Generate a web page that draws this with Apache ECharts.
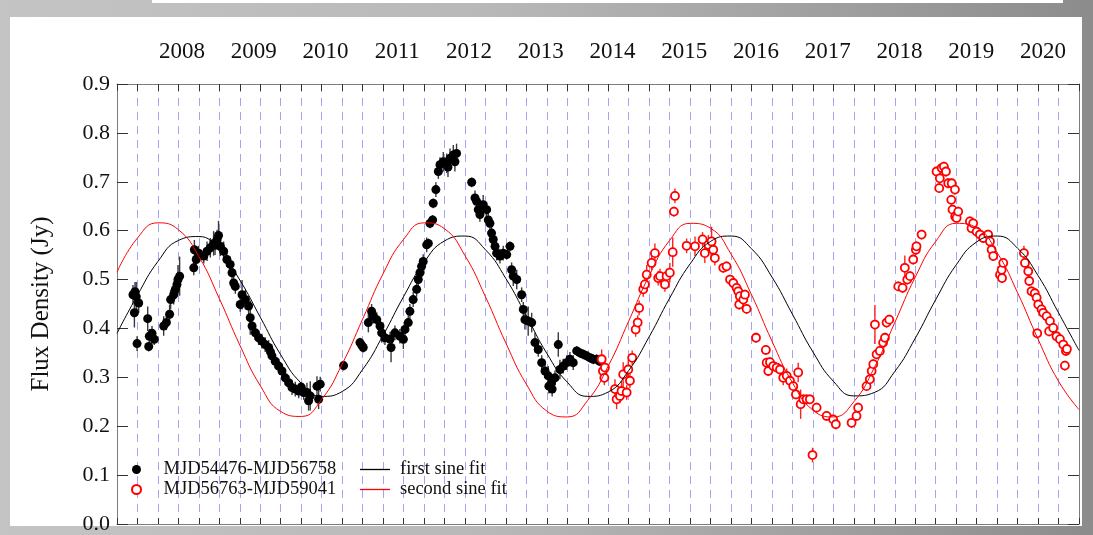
<!DOCTYPE html>
<html>
<head>
<meta charset="utf-8">
<script src="https://cdn.jsdelivr.net/npm/echarts@6/dist/echarts.min.js"></script>
<style>
html,body{margin:0;padding:0;width:1093px;height:535px;overflow:hidden;background:#fff;}
#frame{position:absolute;left:0;top:0;width:1093px;height:535px;background:linear-gradient(90deg,#c4c4c4 0%,#b8b8b8 45%,#8c8c8c 100%);}
#topbar{position:absolute;left:152px;top:0;width:911px;height:3px;background:#fff;}
#panel{position:absolute;left:10px;top:17px;width:1072px;height:509px;background:#fff;}
#chart{position:absolute;left:0;top:0;width:1093px;height:535px;}
</style>
</head>
<body>
<div id="frame"></div><div id="topbar"></div><div id="panel"></div>
<div id="chart"></div>
<script>
// Radio light curve: flux density vs. MJD, two observing epochs with sine fits.

// First epoch (filled black points)
const firstMjd = [54478,54485,54488,54494,54498,54506,54550,54555,54558,54571,54582,54628,54641,54657,54662,54677,54685,54693,54698,54706,
  54775,54778,54787,54799,54824,54840,54856,54872,54879,54889,54896,54905,54921,54937,54953,54962,54970,54978,55002,55011,
  55027,55043,55051,55060,55076,55092,55108,55124,55141,55150,55157,55173,55190,55206,55222,55239,55255,55271,55288,55300,
  55312,55328,55336,55344,55377,55385,55393,55507,55587,55595,55603,55628,55644,55652,55669,55685,55693,55709,55734,55739,
  55758,55782,55799,55807,55823,55831,55847,55864,55872,55880,55888,55896,55913,55921,55929,55942,55945,55958,55970,55978,
  55994,56011,56017,56027,56043,56051,56059,56133,56149,56157,56165,56173,56189,56206,56214,56222,56230,56238,56247,56255,
  56271,56287,56304,56320,56328,56336,56353,56377,56385,56393,56409,56426,56442,56458,56475,56491,56507,56510,56523,56526,
  56540,56556,56564,56580,56597,56613,56629,56646,56662,56678,56694,56711,56727,56743,56758];
const firstFlux = [0.469,0.432,0.475,0.465,0.369,0.452,0.420,0.363,0.384,0.390,0.378,0.405,0.412,0.429,0.459,0.469,0.480,0.490,0.500,0.507,
  0.524,0.561,0.541,0.554,0.548,0.558,0.565,0.574,0.570,0.582,0.590,0.568,0.558,0.541,0.531,0.514,0.493,0.486,0.449,0.469,
  0.459,0.446,0.422,0.405,0.391,0.381,0.374,0.367,0.361,0.352,0.344,0.333,0.323,0.313,0.299,0.289,0.279,0.276,0.272,0.280,
  0.269,0.269,0.252,0.262,0.282,0.255,0.286,0.324,0.371,0.366,0.361,0.412,0.435,0.425,0.418,0.405,0.391,0.381,0.378,0.361,
  0.391,0.384,0.378,0.398,0.412,0.435,0.459,0.480,0.500,0.514,0.527,0.537,0.571,0.574,0.615,0.622,0.656,0.684,0.721,0.735,
  0.741,0.738,0.730,0.748,0.755,0.741,0.758,0.699,0.667,0.660,0.643,0.633,0.653,0.643,0.622,0.615,0.595,0.582,0.568,0.554,
  0.548,0.554,0.551,0.568,0.520,0.507,0.500,0.469,0.439,0.418,0.415,0.412,0.371,0.357,0.330,0.313,0.303,0.282,0.289,0.276,
  0.299,0.367,0.316,0.323,0.330,0.337,0.330,0.354,0.350,0.347,0.344,0.340,0.337,0.337,0.333];
const firstErr = [0.02,0.03,0.02,0.03,0.015,0.02,0.025,0.01,0.015,0.015,0.012,0.02,0.015,0.02,0.02,0.02,0.02,0.02,0.03,0.04,
  0.015,0.02,0.02,0.015,0.015,0.02,0.02,0.025,0.02,0.02,0.03,0.02,0.02,0.015,0.015,0.015,0.015,0.015,0.015,0.03,
  0.02,0.02,0.035,0.01,0.015,0.015,0.015,0.015,0.015,0.01,0.015,0.015,0.015,0.015,0.015,0.015,0.015,0.015,0.015,0.01,
  0.015,0.02,0.02,0.03,0.02,0.02,0.015,0.01,0.01,0.01,0.01,0.02,0.015,0.015,0.015,0.015,0.02,0.015,0.015,0.03,
  0.015,0.015,0.02,0.015,0.015,0.015,0.015,0.015,0.015,0.015,0.015,0.015,0.015,0.01,0.01,0.01,0.01,0.015,0.015,0.015,
  0.02,0.02,0.02,0.02,0.02,0.02,0.02,0.01,0.015,0.015,0.015,0.015,0.02,0.015,0.015,0.015,0.015,0.015,0.015,0.015,
  0.015,0.015,0.01,0.01,0.015,0.02,0.02,0.015,0.015,0.02,0.03,0.02,0.02,0.015,0.015,0.015,0.02,0.015,0.015,0.015,
  0.015,0.025,0.02,0.015,0.015,0.015,0.015,0.01,0.01,0.01,0.01,0.01,0.01,0.01,0.01];

// Second epoch (open red circles)
const secondMjd = [56768,56774,56781,56784,56833,56841,56857,56865,56873,56890,56898,56906,56917,56934,56944,56951,56971,56979,56988,57012,
  57028,57044,57053,57077,57085,57101,57115,57121,57126,57183,57224,57261,57272,57289,57305,57313,57321,57362,57378,57395,
  57411,57427,57435,57440,57443,57460,57468,57476,57522,57570,57574,57582,57590,57606,57623,57639,57655,57672,57688,57704,
  57717,57728,57740,57753,57769,57785,57798,57818,57867,57899,57912,57989,58013,58021,58062,58078,58087,58095,58103,58111,
  58127,58143,58152,58160,58173,58217,58238,58249,58261,58274,58290,58303,58306,58331,58404,58417,58420,58429,58440,58450,
  58461,58476,58478,58482,58494,58495,58502,58510,58567,58575,58583,58600,58616,58632,58656,58665,58673,58681,58714,58722,
  58724,58730,58831,58836,58852,58857,58868,58884,58893,58896,58901,58917,58925,58942,58954,58958,58974,58990,59007,59023,
  59031,59036,59041];
const secondFlux = [0.337,0.313,0.299,0.320,0.276,0.255,0.262,0.272,0.306,0.269,0.316,0.293,0.340,0.398,0.412,0.442,0.480,0.490,0.510,0.534,
  0.554,0.503,0.507,0.490,0.507,0.514,0.556,0.639,0.671,0.569,0.568,0.582,0.554,0.571,0.578,0.561,0.544,0.524,0.527,0.500,
  0.493,0.483,0.476,0.449,0.466,0.459,0.469,0.440,0.381,0.356,0.330,0.313,0.331,0.323,0.320,0.316,0.299,0.303,0.293,0.282,
  0.265,0.310,0.245,0.255,0.255,0.255,0.141,0.238,0.221,0.214,0.204,0.207,0.221,0.238,0.282,0.296,0.313,0.327,0.408,0.347,
  0.354,0.371,0.381,0.412,0.418,0.486,0.483,0.524,0.500,0.507,0.541,0.561,0.568,0.592,0.721,0.687,0.707,0.728,0.731,0.721,
  0.697,0.663,0.697,0.643,0.684,0.629,0.626,0.639,0.619,0.605,0.615,0.598,0.592,0.585,0.592,0.578,0.561,0.548,0.510,0.520,
  0.503,0.534,0.554,0.534,0.517,0.497,0.476,0.472,0.463,0.390,0.449,0.439,0.432,0.425,0.394,0.415,0.401,0.384,0.378,0.367,
  0.324,0.354,0.358];
const secondErr = [0.02,0.015,0.015,0.02,0.02,0.02,0.015,0.02,0.025,0.015,0.02,0.015,0.015,0.015,0.015,0.015,0.015,0.015,0.02,0.015,
  0.02,0.015,0.015,0.015,0.015,0.02,0.03,0.01,0.015,0.015,0.02,0.015,0.02,0.02,0.03,0.02,0.015,0.01,0.01,0.01,
  0.01,0.01,0.01,0.01,0.01,0.01,0.01,0.01,0.01,0.01,0.01,0.01,0.01,0.01,0.01,0.01,0.015,0.015,0.01,0.015,
  0.01,0.02,0.03,0.01,0.01,0.01,0.015,0.01,0.01,0.01,0.01,0.01,0.01,0.01,0.01,0.01,0.01,0.01,0.04,0.01,
  0.01,0.01,0.01,0.01,0.01,0.01,0.01,0.025,0.01,0.01,0.01,0.01,0.01,0.01,0.01,0.01,0.01,0.01,0.01,0.01,
  0.01,0.01,0.01,0.01,0.01,0.01,0.01,0.01,0.01,0.01,0.01,0.01,0.01,0.01,0.01,0.01,0.01,0.01,0.01,0.01,
  0.01,0.01,0.015,0.01,0.01,0.01,0.01,0.01,0.01,0.01,0.01,0.01,0.01,0.01,0.01,0.01,0.01,0.01,0.01,0.01,
  0.01,0.01,0.01];

// Sine-fit curves sampled every 100 days
const fitMjd = [54400,54500,54600,54700,54800,54900,55000,55100,55200,55300,55400,55500,55600,55700,55800,55900,
  56000,56100,56200,56300,56400,56500,56600,56700,56800,56900,57000,57100,57200,57300,57400,57500,
  57600,57700,57800,57900,58000,58100,58200,58300,58400,58500,58600,58700,58800,58900,59000,59100];
const firstFit = [0.390,0.468,0.537,0.580,0.588,0.559,0.499,0.423,0.346,0.288,0.261,0.271,0.316,0.386,0.465,0.535,
  0.579,0.589,0.561,0.502,0.426,0.349,0.290,0.261,0.270,0.314,0.383,0.462,0.532,0.578,0.589,0.563,
  0.505,0.429,0.352,0.292,0.262,0.269,0.312,0.380,0.459,0.530,0.577,0.589,0.564,0.508,0.432,0.355];
const secondFit = [0.515,0.585,0.616,0.602,0.547,0.461,0.366,0.283,0.230,0.220,0.255,0.327,0.419,0.512,0.582,0.616,
  0.604,0.549,0.465,0.370,0.286,0.231,0.219,0.253,0.323,0.415,0.508,0.580,0.615,0.605,0.552,0.469,
  0.374,0.289,0.233,0.219,0.250,0.320,0.412,0.505,0.578,0.615,0.606,0.555,0.473,0.378,0.292,0.234];

// Calendar-year labels along the top
const yearTicks = [2008,2009,2010,2011,2012,2013,2014,2015,2016,2017,2018,2019,2020];

const SERIF = "'Liberation Serif', 'DejaVu Serif', serif";
const MJD_MIN = 54400, MJD_MAX = 59100;
const YEAR_MIN = 2007.094, YEAR_MAX = 2020.502;

function zip3(a, b, c) { return a.map((v, i) => [v, b[i], c[i]]); }
function zip2(a, b) { return a.map((v, i) => [v, b[i]]); }

function errorBars(color) {
  return function (params, api) {
    const x = api.value(0), y = api.value(1), e = api.value(2);
    const hi = api.coord([x, y + e]);
    const lo = api.coord([x, y - e]);
    return {
      type: 'line',
      shape: { x1: hi[0], y1: hi[1], x2: lo[0], y2: lo[1] },
      style: { stroke: color, lineWidth: 1.4 }
    };
  };
}

const frameLine = { show: true, onZero: false, lineStyle: { color: '#7c7c7c', width: 1 } };
const legendText = { fontSize: 18.5, lineHeight: 17, color: '#111', fontFamily: SERIF };

const chart = echarts.init(document.getElementById('chart'), null, { renderer: 'canvas' });
chart.setOption({
  animation: false,
  backgroundColor: 'transparent',
  textStyle: { fontFamily: SERIF },
  grid: { left: 117, right: 14, top: 84, bottom: 11, containLabel: false },
  xAxis: [
    {
      type: 'value', position: 'bottom', min: MJD_MIN, max: MJD_MAX, interval: 100,
      axisLine: frameLine,
      axisTick: { show: true, inside: true, length: 6, lineStyle: { color: '#333' } },
      axisLabel: { show: false },
      splitLine: { show: true, showMinLine: false, showMaxLine: false,
        lineStyle: { color: '#a4a4f4', type: [8, 6], width: 1 } }
    },
    {
      type: 'value', position: 'top', min: MJD_MIN, max: MJD_MAX, interval: 100,
      axisLine: frameLine,
      axisTick: { show: true, inside: true, length: 7, lineStyle: { color: '#333' } },
      axisLabel: { show: false },
      splitLine: { show: false }
    },
    {
      type: 'value', position: 'top', min: YEAR_MIN, max: YEAR_MAX,
      axisLine: { show: false }, axisTick: { show: false }, splitLine: { show: false },
      axisLabel: {
        customValues: yearTicks, margin: 21, fontSize: 23, color: '#111', fontFamily: SERIF,
        formatter: v => String(Math.round(v))
      }
    }
  ],
  yAxis: [
    {
      type: 'value', position: 'left', min: 0, max: 0.9, interval: 0.1,
      axisLine: frameLine,
      axisTick: { show: true, inside: true, length: 11, lineStyle: { color: '#333' } },
      axisLabel: { fontSize: 22, color: '#111', margin: 7, fontFamily: SERIF, formatter: v => v.toFixed(1) },
      splitLine: { show: false },
      name: 'Flux Density (Jy)', nameLocation: 'middle', nameGap: 63,
      nameTextStyle: { fontSize: 25, color: '#111', fontFamily: SERIF }
    },
    {
      type: 'value', position: 'right', min: 0, max: 0.9, interval: 0.1,
      axisLine: frameLine,
      axisTick: { show: true, inside: true, length: 11, lineStyle: { color: '#333' } },
      axisLabel: { show: false },
      splitLine: { show: false }
    }
  ],
  legend: [
    {
      data: ['MJD54476-MJD56758', 'MJD56763-MJD59041'],
      orient: 'vertical', left: 126, top: 455, itemWidth: 22, itemHeight: 9, itemGap: 1,
      selectedMode: false, icon: 'circle',
      textStyle: Object.assign({ padding: [0, 0, 0, 11] }, legendText)
    },
    {
      data: ['first sine fit', 'second sine fit'],
      orient: 'vertical', left: 355, top: 455, itemWidth: 30, itemHeight: 1.3, itemGap: 1,
      selectedMode: false, icon: 'rect',
      textStyle: Object.assign({ padding: [0, 0, 0, 5] }, legendText)
    }
  ],
  series: [
    {
      type: 'custom', name: 'first epoch errors', xAxisIndex: 0, yAxisIndex: 0,
      renderItem: errorBars('#3a3a3a'), encode: { x: 0, y: 1 },
      data: zip3(firstMjd, firstFlux, firstErr), z: 2, silent: true
    },
    {
      type: 'scatter', name: 'MJD54476-MJD56758', xAxisIndex: 0, yAxisIndex: 0,
      symbol: 'circle', symbolSize: 9,
      itemStyle: { color: '#000', opacity: 1 },
      data: zip2(firstMjd, firstFlux), z: 3
    },
    {
      type: 'custom', name: 'second epoch errors', xAxisIndex: 0, yAxisIndex: 0,
      renderItem: errorBars('#ff2020'), encode: { x: 0, y: 1 },
      data: zip3(secondMjd, secondFlux, secondErr), z: 2, silent: true
    },
    {
      type: 'scatter', name: 'MJD56763-MJD59041', xAxisIndex: 0, yAxisIndex: 0,
      symbol: 'circle', symbolSize: 8,
      itemStyle: { color: '#fff', borderColor: '#ff0000', borderWidth: 1.8, opacity: 1 },
      data: zip2(secondMjd, secondFlux), z: 3
    },
    {
      type: 'line', name: 'first sine fit', xAxisIndex: 0, yAxisIndex: 0,
      data: zip2(fitMjd, firstFit), smooth: true, symbol: 'none',
      lineStyle: { color: '#000', width: 1 }, itemStyle: { color: '#000' }, z: 4
    },
    {
      type: 'line', name: 'second sine fit', xAxisIndex: 0, yAxisIndex: 0,
      data: zip2(fitMjd, secondFit), smooth: true, symbol: 'none',
      lineStyle: { color: '#ff0000', width: 1 }, itemStyle: { color: '#ff0000' }, z: 4
    }
  ]
});
</script>
</body>
</html>
